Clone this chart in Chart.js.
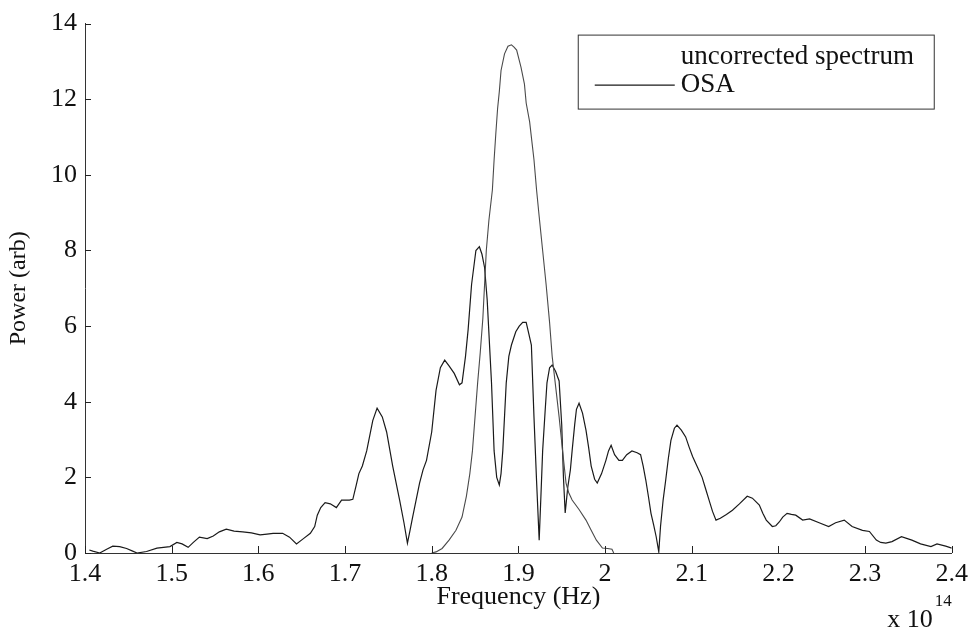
<!DOCTYPE html>
<html>
<head>
<meta charset="utf-8">
<script src="https://cdn.jsdelivr.net/npm/chart.js@4"></script>
<style>
  html, body { margin: 0; padding: 0; background: #ffffff; }
  #wrap { width: 974px; height: 633px; }
</style>
</head>
<body>
<div id="wrap"><canvas id="c" width="974" height="633"></canvas></div>
<script>
// ---- data (frequency in units of 1e14 Hz, power in arbitrary units) ----
const osaFreq = [1.405,1.409,1.417,1.425,1.432,1.440,1.448,1.455,1.460,1.471,1.483,1.498,1.506,1.512,1.519,1.525,1.532,1.541,1.548,1.555,1.563,1.572,1.582,1.592,1.602,1.610,1.617,1.628,1.636,1.644,1.652,1.660,1.665,1.668,1.672,1.677,1.683,1.690,1.696,1.705,1.709,1.713,1.716,1.720,1.725,1.732,1.737,1.743,1.748,1.755,1.763,1.768,1.772,1.775,1.778,1.782,1.786,1.790,1.794,1.800,1.805,1.810,1.815,1.820,1.826,1.832,1.835,1.839,1.842,1.846,1.851,1.855,1.858,1.861,1.864,1.869,1.872,1.875,1.878,1.880,1.882,1.886,1.889,1.892,1.897,1.901,1.905,1.909,1.912,1.915,1.918,1.921,1.924,1.926,1.928,1.931,1.933,1.936,1.939,1.943,1.947,1.950,1.952,1.954,1.957,1.960,1.962,1.965,1.967,1.970,1.974,1.978,1.981,1.984,1.988,1.991,1.996,2.001,2.004,2.007,2.011,2.016,2.020,2.025,2.031,2.037,2.041,2.044,2.047,2.050,2.053,2.056,2.059,2.062,2.064,2.067,2.070,2.073,2.076,2.080,2.083,2.088,2.093,2.097,2.101,2.106,2.112,2.116,2.120,2.124,2.128,2.133,2.140,2.147,2.155,2.164,2.170,2.178,2.182,2.186,2.193,2.197,2.201,2.205,2.210,2.215,2.220,2.228,2.236,2.247,2.258,2.266,2.276,2.285,2.297,2.305,2.313,2.318,2.324,2.331,2.342,2.354,2.364,2.376,2.383,2.393,2.400];
const osaPower = [0.08,0.05,0.0,0.10,0.18,0.17,0.12,0.05,0.0,0.04,0.13,0.17,0.28,0.24,0.15,0.28,0.42,0.38,0.45,0.56,0.63,0.58,0.56,0.53,0.48,0.50,0.52,0.52,0.42,0.24,0.38,0.52,0.70,1.0,1.2,1.33,1.3,1.2,1.4,1.4,1.42,1.8,2.1,2.3,2.7,3.5,3.83,3.6,3.2,2.3,1.4,0.8,0.26,0.6,0.95,1.4,1.85,2.2,2.45,3.2,4.3,4.9,5.1,4.95,4.75,4.45,4.5,5.2,5.9,7.1,8.0,8.1,7.9,7.55,6.7,4.5,2.7,2.0,1.8,2.1,2.7,4.5,5.2,5.5,5.85,6.0,6.1,6.1,5.8,5.5,3.6,1.9,0.34,1.5,2.7,3.8,4.5,4.9,4.97,4.8,4.55,3.4,2.0,1.06,1.74,2.2,2.7,3.4,3.8,3.96,3.7,3.25,2.8,2.3,1.95,1.85,2.1,2.45,2.7,2.85,2.6,2.45,2.45,2.6,2.7,2.65,2.6,2.3,1.93,1.5,1.05,0.75,0.43,0.03,0.7,1.4,1.93,2.5,2.98,3.3,3.38,3.25,3.07,2.8,2.55,2.3,2.0,1.7,1.4,1.1,0.87,0.92,1.02,1.13,1.3,1.5,1.45,1.27,1.05,0.87,0.7,0.72,0.82,0.95,1.05,1.02,1.0,0.87,0.9,0.8,0.7,0.8,0.87,0.7,0.6,0.57,0.34,0.28,0.26,0.3,0.43,0.34,0.24,0.17,0.24,0.18,0.13];

const uncFreq = [1.800,1.805,1.812,1.820,1.828,1.835,1.840,1.844,1.847,1.850,1.853,1.856,1.859,1.861,1.863,1.866,1.870,1.872,1.874,1.876,1.878,1.880,1.884,1.888,1.892,1.895,1.898,1.903,1.907,1.909,1.913,1.916,1.918,1.921,1.924,1.928,1.932,1.936,1.939,1.943,1.947,1.951,1.955,1.958,1.962,1.970,1.978,1.984,1.990,1.997,2.003,2.008,2.010];
const uncPower = [0.0,0.03,0.12,0.34,0.6,0.95,1.5,2.1,2.7,3.6,4.5,5.3,6.2,7.1,8.0,8.8,9.6,10.4,11.1,11.75,12.2,12.76,13.2,13.4,13.44,13.38,13.3,12.85,12.4,11.9,11.4,10.8,10.4,9.6,8.9,8.0,7.1,6.1,5.2,4.4,3.6,2.7,1.85,1.6,1.4,1.15,0.87,0.6,0.34,0.13,0.12,0.1,0.0];

const seriesLabels = ['uncorrected spectrum', 'OSA'];
const xTickValues = [1.4,1.5,1.6,1.7,1.8,1.9,2.0,2.1,2.2,2.3,2.4];
const xTickLabels = ['1.4','1.5','1.6','1.7','1.8','1.9','2','2.1','2.2','2.3','2.4'];
const yTickValues = [0,2,4,6,8,10,12,14];
const yTickLabels = ['0','2','4','6','8','10','12','14'];
const xTitle = 'Frequency (Hz)';
const yTitle = 'Power (arb)';
const exponentBase = 'x 10';
const exponentPower = '14';

// ---- styling ----
const SERIF = '"Liberation Serif", "Times New Roman", serif';
const FONT_SIZE = 26;
const LEGEND_FONT_SIZE = 27;

const toPoints = (xs, ys) => xs.map((x, i) => ({ x: x, y: ys[i] }));

// inward ticks (MATLAB style)
const inwardTicks = {
  id: 'inwardTicks',
  afterDatasetsDraw(chart) {
    const { ctx, chartArea, scales } = chart;
    ctx.save();
    ctx.strokeStyle = '#222';
    ctx.lineWidth = 1;
    ctx.beginPath();
    xTickValues.forEach(v => {
      const px = Math.round(scales.x.getPixelForValue(v)) + 0.5;
      ctx.moveTo(px, chartArea.bottom);
      ctx.lineTo(px, chartArea.bottom - 7);
    });
    yTickValues.forEach(v => {
      const py = Math.round(scales.y.getPixelForValue(v)) + 0.5;
      ctx.moveTo(chartArea.left, py);
      ctx.lineTo(chartArea.left + 6, py);
    });
    ctx.stroke();
    ctx.restore();
  }
};

// boxed legend inside the axes, top right
const boxLegend = {
  id: 'boxLegend',
  afterDraw(chart) {
    const { ctx, chartArea } = chart;
    const right = chartArea.right - 18;
    const left = right - 356;
    const top = chartArea.top + 11;
    const rowH = 28;
    const bottom = top + 2 * rowH + 18;
    ctx.save();
    ctx.fillStyle = '#ffffff';
    ctx.fillRect(left, top, right - left, bottom - top);
    ctx.strokeStyle = '#333';
    ctx.lineWidth = 1;
    ctx.strokeRect(left + 0.5, top + 0.5, right - left, bottom - top);
    ctx.font = LEGEND_FONT_SIZE + 'px ' + SERIF;
    ctx.textBaseline = 'middle';
    ctx.textAlign = 'left';
    chart.data.datasets.forEach((ds, i) => {
      const cy = top + 22 + i * rowH;
      if (ds.legendSample) {
        ctx.strokeStyle = ds.borderColor;
        ctx.lineWidth = ds.borderWidth;
        ctx.beginPath();
        ctx.moveTo(left + 17, cy + 0.5);
        ctx.lineTo(left + 97, cy + 0.5);
        ctx.stroke();
      }
      ctx.fillStyle = '#111';
      ctx.fillText(ds.label, left + 103, cy);
    });
    ctx.restore();
  }
};

// axis exponent label "x 10^14"
const exponentLabel = {
  id: 'exponentLabel',
  afterDraw(chart) {
    const { ctx, chartArea } = chart;
    ctx.save();
    ctx.fillStyle = '#111';
    ctx.textBaseline = 'middle';
    ctx.textAlign = 'right';
    ctx.font = FONT_SIZE + 'px ' + SERIF;
    const baseRight = chartArea.right - 19;
    ctx.fillText(exponentBase, baseRight, chartArea.bottom + 67);
    ctx.textAlign = 'left';
    ctx.font = '17px ' + SERIF;
    ctx.fillText(exponentPower, baseRight + 2, chartArea.bottom + 49);
    ctx.restore();
  }
};

new Chart(document.getElementById('c'), {
  type: 'line',
  data: {
    datasets: [
      {
        label: seriesLabels[0],
        data: toPoints(uncFreq, uncPower),
        borderColor: '#4a4a4a',
        borderWidth: 1.1,
        pointRadius: 0,
        fill: false,
        tension: 0,
        legendSample: false
      },
      {
        label: seriesLabels[1],
        data: toPoints(osaFreq, osaPower),
        borderColor: '#1a1a1a',
        borderWidth: 1.2,
        pointRadius: 0,
        fill: false,
        tension: 0,
        legendSample: true
      }
    ]
  },
  options: {
    responsive: false,
    animation: false,
    devicePixelRatio: 1,
    layout: { padding: { top: 23, right: 21, left: 0, bottom: 0 } },
    plugins: {
      legend: { display: false },
      tooltip: { enabled: false }
    },
    scales: {
      x: {
        type: 'linear',
        min: 1.4,
        max: 2.4,
        afterBuildTicks: s => { s.ticks = xTickValues.map(v => ({ value: v })); },
        afterFit: s => { s.height = 80; },
        grid: { display: false, drawTicks: false },
        border: { display: true, color: '#333', width: 1 },
        ticks: {
          padding: 6,
          color: '#111',
          maxRotation: 0,
          autoSkip: false,
          font: { family: SERIF, size: FONT_SIZE },
          callback: (v) => {
            const i = xTickValues.findIndex(t => Math.abs(t - v) < 1e-6);
            return i >= 0 ? xTickLabels[i] : '';
          }
        },
        title: {
          display: true,
          text: xTitle,
          color: '#111',
          font: { family: SERIF, size: FONT_SIZE },
          padding: { top: 0, bottom: 20 }
        }
      },
      y: {
        type: 'linear',
        min: 0,
        max: 14,
        afterBuildTicks: s => { s.ticks = yTickValues.map(v => ({ value: v })); },
        afterFit: s => { s.width = 85; },
        grid: { display: false, drawTicks: false },
        border: { display: true, color: '#333', width: 1 },
        ticks: {
          padding: 8,
          color: '#111',
          font: { family: SERIF, size: FONT_SIZE },
          callback: (v) => {
            const i = yTickValues.findIndex(t => Math.abs(t - v) < 1e-6);
            return i >= 0 ? yTickLabels[i] : '';
          }
        },
        title: {
          display: true,
          text: yTitle,
          color: '#111',
          font: { family: SERIF, size: 24 },
          padding: { top: 4, bottom: 0 }
        }
      }
    }
  },
  plugins: [inwardTicks, boxLegend, exponentLabel]
});
</script>
</body>
</html>
